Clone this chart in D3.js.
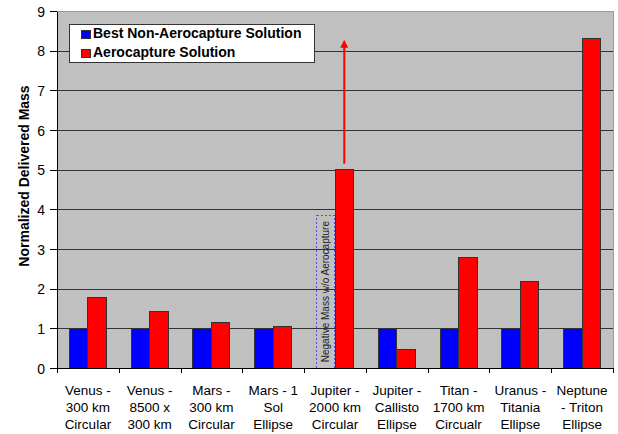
<!DOCTYPE html>
<meta charset="utf-8">
<style>
body { margin: 0; background: #fff; }
svg { font-family: 'Liberation Sans', Arial, sans-serif; }
svg text { fill: #000; font-family: 'Liberation Sans', Arial, sans-serif; }
.tick-label { font-size: 14px; }
.grid line { stroke: #333; stroke-width: 1px; shape-rendering: crispEdges; }
.grid path { stroke: none; }
.axis path, .axis line { stroke: #000; shape-rendering: crispEdges; }
.bar { stroke: #333; stroke-width: 1px; shape-rendering: crispEdges; }
.legend-text { font-size: 14px; font-weight: bold; }
.y-title { font-size: 14px; font-weight: bold; text-anchor: middle; }
.x-label { font-size: 13.5px; text-anchor: middle; }
.note-box { fill: none; stroke: #5555dd; stroke-dasharray: 2,2; stroke-width: 1px; shape-rendering: crispEdges; }
.note-text { font-size: 10px; text-anchor: middle; fill: #222; }
</style>
<body>
<svg width="618" height="434"></svg>
<script src="https://d3js.org/d3.v7.min.js"></script>
<script>
// category labels, one array of lines per category
var categories = [
  ["Venus -", "300 km", "Circular"],
  ["Venus -", "8500 x", "300 km"],
  ["Mars -", "300 km", "Circular"],
  ["Mars - 1", "Sol", "Ellipse"],
  ["Jupiter -", "2000 km", "Circular"],
  ["Jupiter -", "Callisto", "Ellipse"],
  ["Titan -", "1700 km", "Circualr"],
  ["Uranus -", "Titania", "Ellipse"],
  ["Neptune", "- Triton", "Ellipse"]
];
var seriesNames = ["Best Non-Aerocapture Solution", "Aerocapture Solution"];
var nonAero = [1, 1, 1, 1, null, 1, 1, 1, 1];
var aero = [1.78, 1.43, 1.15, 1.05, 5.0, 0.47, 2.79, 2.18, 8.31];
var yTicks = [0, 1, 2, 3, 4, 5, 6, 7, 8, 9];

// annotations on the Jupiter 2000 km category
var noteIndex = 4;
var noteTop = 3.85;
var noteText = "Negative Mass w/o Aerocapture";
var arrowFrom = 5.15, arrowTo = 8.25;

var colors = ["#0000ff", "#ff0000"];

var svg = d3.select("svg"),
    margin = {top: 11, right: 5, bottom: 66, left: 57},
    width = +svg.attr("width") - margin.left - margin.right,
    height = +svg.attr("height") - margin.top - margin.bottom;

var g = svg.append("g")
    .attr("transform", "translate(" + margin.left + "," + margin.top + ")");

var x = d3.scaleBand().domain(d3.range(categories.length)).range([0, width]);
var xEdge = d3.scaleLinear().domain([0, categories.length]).range([0, width]);
var x1 = d3.scaleBand().domain([0, 1]).range([x.bandwidth() * 0.2, x.bandwidth() * 0.8]);
var y = d3.scaleLinear().domain([0, 9]).range([height, 0]);

// plot background
g.append("rect")
    .attr("width", width)
    .attr("height", height)
    .attr("fill", "#c0c0c0")
    .attr("stroke", "#999")
    .attr("shape-rendering", "crispEdges");

// grid lines
g.append("g")
    .attr("class", "grid")
    .call(d3.axisLeft(y).tickValues(yTicks.slice(1, -1)).tickSize(-width).tickFormat(""));

// bars
var series = [nonAero, aero];
series.forEach(function(vals, si) {
  g.append("g").selectAll("rect")
      .data(vals.map(function(v, i) { return {i: i, v: v}; }).filter(function(d) { return d.v != null; }))
    .enter().append("rect")
      .attr("class", "bar")
      .attr("x", function(d) { return x(d.i) + x1(si); })
      .attr("width", x1.bandwidth())
      .attr("y", function(d) { return y(d.v); })
      .attr("height", function(d) { return height - y(d.v); })
      .attr("fill", colors[si]);
});

// dashed note box where the missing bar would be
var nx = x(noteIndex) + x1(0);
g.append("rect")
    .attr("class", "note-box")
    .attr("x", nx + 0.5)
    .attr("y", y(noteTop))
    .attr("width", x1.bandwidth() - 1)
    .attr("height", height - y(noteTop));
g.append("text")
    .attr("class", "note-text")
    .attr("transform", "translate(" + (nx + x1.bandwidth() / 2 + 3.5) + "," + ((y(noteTop) + height) / 2) + ") rotate(-90)")
    .text(noteText);

// arrow above the jupiter aerocapture bar
var ax = x(noteIndex) + x1(1) + x1.bandwidth() / 2;
svg.append("defs").append("marker")
    .attr("id", "head")
    .attr("viewBox", "0 0 10 10")
    .attr("refX", 5).attr("refY", 5)
    .attr("markerWidth", 4).attr("markerHeight", 4)
    .attr("orient", "auto")
  .append("path")
    .attr("d", "M0,0L10,5L0,10z")
    .attr("fill", "#ff0000");
g.append("line")
    .attr("x1", ax).attr("x2", ax)
    .attr("y1", y(arrowFrom)).attr("y2", y(arrowTo) + 3)
    .attr("stroke", "#ff0000")
    .attr("stroke-width", 2)
    .attr("marker-end", "url(#head)");

// y axis
var yAxis = g.append("g")
    .attr("class", "axis")
    .attr("font-family", null)
    .attr("font-size", null)
    .call(d3.axisLeft(y).tickValues(yTicks).tickSize(7).tickPadding(5).tickSizeOuter(0));
yAxis.attr("font-family", null).attr("font-size", null);
yAxis.selectAll("text").attr("class", "tick-label").attr("dy", "0.36em");

// x axis with ticks on category edges
var xAxis = g.append("g")
    .attr("class", "axis")
    .attr("transform", "translate(0," + height + ")")
    .call(d3.axisBottom(xEdge).tickValues(d3.range(categories.length + 1)).tickSize(5).tickFormat("").tickSizeOuter(0));

var labels = g.append("g").selectAll("text")
    .data(categories)
  .enter().append("text")
    .attr("class", "x-label")
    .attr("x", function(d, i) { return x(i) + x.bandwidth() / 2; })
    .attr("y", height + 27);
labels.selectAll("tspan")
    .data(function(d) { return d; })
  .enter().append("tspan")
    .attr("x", function() { return this.parentNode.getAttribute("x"); })
    .attr("dy", function(d, j) { return j === 0 ? 0 : 17; })
    .text(function(d) { return d; });

// y title
svg.append("text")
    .attr("class", "y-title")
    .attr("transform", "translate(29,176) rotate(-90)")
    .text("Normalized Delivered Mass");

// legend
var legend = svg.append("g").attr("transform", "translate(69,24)");
legend.append("rect")
    .attr("width", 245).attr("height", 38)
    .attr("fill", "#fff").attr("stroke", "#333")
    .attr("shape-rendering", "crispEdges");
seriesNames.forEach(function(name, i) {
  var row = legend.append("g").attr("transform", "translate(0," + (i * 19.5) + ")");
  row.append("rect")
      .attr("x", 12).attr("y", 6)
      .attr("width", 9).attr("height", 8)
      .attr("fill", colors[i]).attr("stroke", "#333")
      .attr("shape-rendering", "crispEdges");
  row.append("text")
      .attr("class", "legend-text")
      .attr("x", 24).attr("y", 13.5)
      .text(name);
});
</script>
